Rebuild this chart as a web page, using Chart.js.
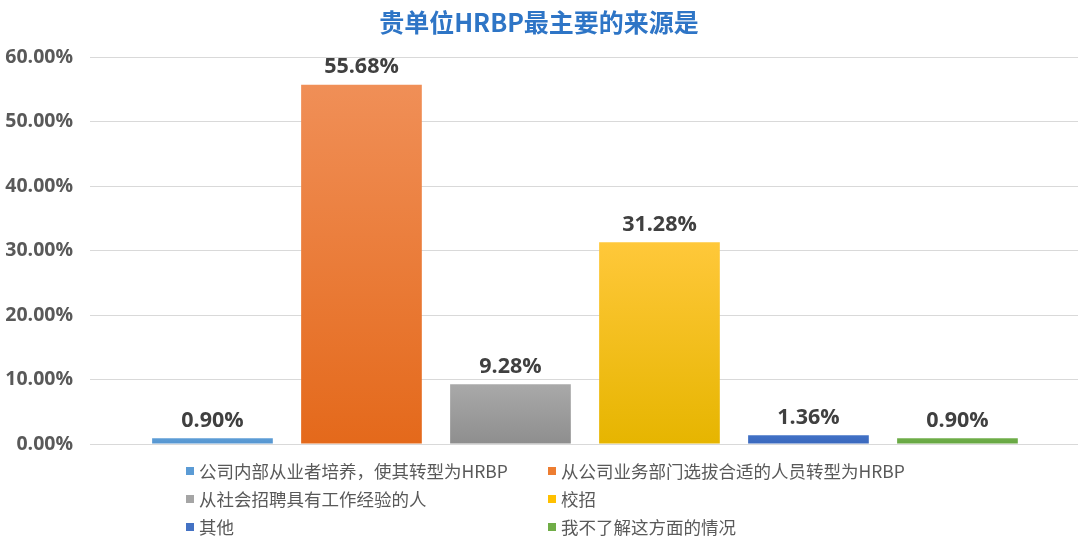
<!DOCTYPE html>
<html>
<head>
<meta charset="utf-8">
<script src="https://cdn.jsdelivr.net/npm/chart.js@4"></script>
<style>
  html, body { margin: 0; padding: 0; background: #fff; }
  #wrap { width: 1080px; height: 536px; position: relative; }
</style>
</head>
<body>
<div id="wrap"><canvas id="chart"></canvas></div>
<script>
// 数据
const title = '贵单位HRBP最主要的来源是';
const categories = [
    '公司内部从业者培养，使其转型为HRBP',
    '从公司业务部门选拔合适的人员转型为HRBP',
    '从社会招聘具有工作经验的人',
    '校招',
    '其他',
    '我不了解这方面的情况'
];
const values = [0.90, 55.68, 9.28, 31.28, 1.36, 0.90];
const yTicks = [0, 10, 20, 30, 40, 50, 60];

// 颜色（顶部 / 底部 渐变）
const topColors = ['#5d9dd6', '#f08f57', '#a9a9a9', '#ffc83a', '#4272c6', '#6fae49'];
const bottomColors = ['#5595d0', '#e4691b', '#8e8e8e', '#e6b500', '#3a68bd', '#66a642'];
const legendColors = ['#5b9bd5', '#ed7d31', '#a5a5a5', '#ffc000', '#4472c4', '#70ad47'];

const fontFamily = '"Open Sans", "Noto Sans CJK SC", sans-serif';

// 柱子上方的数值标签
const valueLabels = {
    id: 'valueLabels',
    afterDatasetsDraw(chart) {
        const ctx = chart.ctx;
        const meta = chart.getDatasetMeta(0);
        ctx.save();
        ctx.font = 'bold 21.5px ' + fontFamily;
        ctx.fillStyle = '#404040';
        ctx.textAlign = 'center';
        ctx.textBaseline = 'bottom';
        meta.data.forEach((bar, i) => {
            ctx.fillText(values[i].toFixed(2) + '%', bar.x, bar.y - 7);
        });
        ctx.restore();
    }
};

// 底部两列图例
const gridLegend = {
    id: 'gridLegend',
    afterDraw(chart) {
        const ctx = chart.ctx;
        const colX = [186, 548];
        const rowY = [471, 499, 527];
        ctx.save();
        ctx.font = '17.5px "Noto Sans CJK SC", sans-serif';
        ctx.textBaseline = 'middle';
        ctx.textAlign = 'left';
        categories.forEach((name, i) => {
            const x = colX[i % 2];
            const y = rowY[Math.floor(i / 2)];
            ctx.fillStyle = legendColors[i];
            ctx.fillRect(x, y - 4, 8, 8);
            ctx.fillStyle = '#595959';
            ctx.fillText(name, x + 13, y);
        });
        ctx.restore();
    }
};

function barGradient(context) {
    const chart = context.chart;
    const i = context.dataIndex;
    if (!chart.chartArea) return legendColors[i];
    const yScale = chart.scales.y;
    const top = yScale.getPixelForValue(values[i]);
    const bottom = yScale.getPixelForValue(0);
    if (bottom - top < 2) return topColors[i];
    const g = chart.ctx.createLinearGradient(0, top, 0, bottom);
    g.addColorStop(0, topColors[i]);
    g.addColorStop(1, bottomColors[i]);
    return g;
}

new Chart(document.getElementById('chart'), {
    type: 'bar',
    data: {
        labels: categories,
        datasets: [{
            data: values.map((v, i) => ({ x: i, y: v })),
            backgroundColor: barGradient,
            borderWidth: 0,
            barPercentage: 0.81,
            categoryPercentage: 1.0
        }]
    },
    options: {
        responsive: true,
        maintainAspectRatio: false,
        animation: false,
        layout: {
            padding: { left: 0, right: 2, top: 0, bottom: 92 }
        },
        scales: {
            x: {
                type: 'linear',
                display: false,
                offset: false,
                min: -0.822,
                max: 5.809,
                // 每个类别一个刻度，柱宽按类别间距计算
                afterBuildTicks(scale) {
                    scale.ticks = categories.map((c, i) => ({ value: i }));
                }
            },
            y: {
                min: 0,
                max: 60,
                afterFit(scale) { scale.width = 90; },
                afterBuildTicks(scale) {
                    scale.ticks = yTicks.map(v => ({ value: v }));
                },
                border: { display: false },
                grid: {
                    color: '#d9d9d9',
                    lineWidth: 1,
                    drawTicks: false
                },
                ticks: {
                    padding: 17,
                    color: '#595959',
                    font: { family: fontFamily, size: 19.5, weight: 'bold' },
                    callback: v => v.toFixed(2) + '%'
                }
            }
        },
        plugins: {
            legend: { display: false },
            tooltip: { enabled: false },
            title: {
                display: true,
                text: title,
                color: '#2e75c6',
                font: { family: '"Noto Sans CJK SC", sans-serif', size: 25, weight: 'bold' },
                padding: { top: 7, bottom: 20 }
            }
        }
    },
    plugins: [valueLabels, gridLegend]
});
</script>
</body>
</html>
